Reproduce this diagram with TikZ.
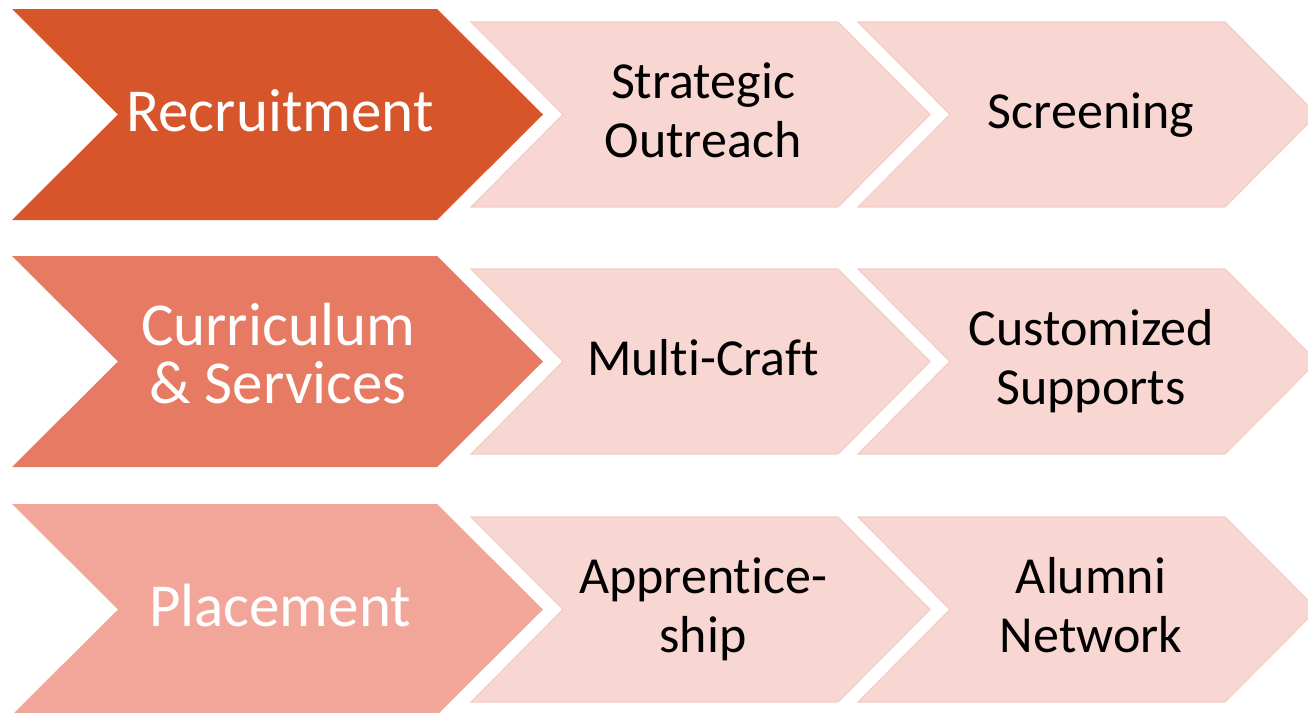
\documentclass[tikz,border=0pt]{standalone}
\usepackage{fontspec}
\setmainfont{Carlito}[RawFeature={-liga}]
\definecolor{c1}{HTML}{D7552A}
\definecolor{c2}{HTML}{E77A62}
\definecolor{c3}{HTML}{F1A699}
\definecolor{cs}{HTML}{F8D6D2}
\definecolor{csb}{HTML}{F5CDC7}
\tikzset{
  bigtxt/.style={text=white, align=center, font=\fontsize{61}{58}\selectfont, inner sep=0pt, anchor=base},
  smalltxt/.style={text=black, align=center, font=\fontsize{52}{59}\selectfont, inner sep=0pt, anchor=base},
  smallchev/.style={fill=cs, draw=csb, line width=1.2pt, line join=miter},
}
\newcommand{\bigchev}[2]{%
  \fill[#2] (12,#1-105.5) -- (437,#1-105.5) -- (543,#1) -- (437,#1+105.5) -- (12,#1+105.5) -- (118,#1) -- cycle;}
\newcommand{\smchev}[2]{%
  \draw[smallchev] (#1,#2-92.5) -- (#1+367,#2-92.5) -- (#1+459,#2) -- (#1+367,#2+92.5) -- (#1,#2+92.5) -- (#1+92,#2) -- cycle;}
\begin{document}
\begin{tikzpicture}[x=1pt,y=-1pt]
\useasboundingbox (0,0) rectangle (1308,712);
\begin{scope}
\clip (0,0) rectangle (1308,712);
\bigchev{114.5}{c1}
\bigchev{361.5}{c2}
\bigchev{609.5}{c3}
\smchev{471}{114.5}
\smchev{858}{114.5}
\smchev{471}{361.5}
\smchev{858}{361.5}
\smchev{471}{609.5}
\smchev{858}{609.5}
\end{scope}
\node[bigtxt] (r1) at (280,131) {Recruitment};
\node[bigtxt] (r2) at (278,403) {Curriculum\\\& Services};
\node[bigtxt] (r3) at (280,626) {Placement};
\node[smalltxt] (a1) at (703,157) {Strategic\\Outreach};
\node[smalltxt] (b1) at (1091,128) {Screening};
\node[smalltxt] (a2) at (703,375) {Multi-Craft};
\node[smalltxt] (b2) at (1091,404) {Customized\\Supports};
\node[smalltxt] (a3) at (703,652) {Apprentice-\\ship};
\node[smalltxt] (b3) at (1091,652) {Alumni\\Network};
\end{tikzpicture}
\end{document}
